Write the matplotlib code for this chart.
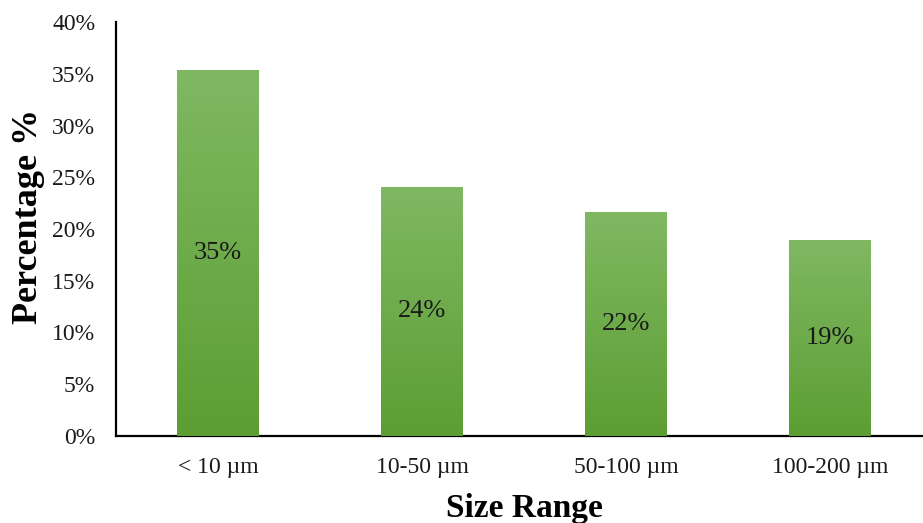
import matplotlib
matplotlib.use("Agg")
import matplotlib.pyplot as plt
import numpy as np
from matplotlib.colors import LinearSegmentedColormap

categories = ["< 10 \u00b5m", "10-50 \u00b5m", "50-100 \u00b5m", "100-200 \u00b5m"]
percentages = [0.354, 0.241, 0.216, 0.189]
y_ticks = [0, 0.05, 0.10, 0.15, 0.20, 0.25, 0.30, 0.35, 0.40]

plt.rcParams["font.family"] = ["Liberation Serif", "DejaVu Serif"]

fig = plt.figure(figsize=(9.23, 5.23), dpi=100)
ax = fig.add_axes([116 / 923, 87 / 523, 816 / 923, 414 / 523])

x = np.arange(len(categories))
bars = ax.bar(x, percentages, width=0.40, color="#6aa944", zorder=2)

# vertical green gradient inside every bar
grad_cmap = LinearSegmentedColormap.from_list("bar_grad", ["#5c9e33", "#80b862"])
grad = np.linspace(0, 1, 256).reshape(-1, 1)
for rect in bars:
    x0, w, h = rect.get_x(), rect.get_width(), rect.get_height()
    im = ax.imshow(grad, cmap=grad_cmap, origin="lower", aspect="auto",
                   extent=(x0, x0 + w, 0, h), zorder=3)
    im.set_clip_path(rect)

for xi, v in zip(x, percentages):
    ax.text(xi, v / 2, f"{round(v * 100):.0f}%", ha="center", va="center",
            fontsize=19, color="#1a1a1a", zorder=4)

ax.set_xlim(-0.5, 3.5)
ax.set_ylim(0, 0.40)
ax.set_yticks(y_ticks)
ax.set_yticklabels([f"{round(t * 100)}%" for t in y_ticks])
ax.set_xticks(x)
ax.set_xticklabels(categories)
ax.tick_params(axis="both", length=0, labelsize=17, colors="#1a1a1a")
ax.tick_params(axis="y", pad=15)
ax.tick_params(axis="x", pad=15)

for side in ("top", "right"):
    ax.spines[side].set_visible(False)
for side in ("left", "bottom"):
    ax.spines[side].set_linewidth(1.6)
    ax.spines[side].set_color("black")

ax.set_ylabel("Percentage %", fontsize=26, fontweight="bold")
ax.yaxis.set_label_coords(-0.087, 0.53)
ax.set_xlabel("Size Range", fontsize=24, fontweight="bold", labelpad=11)

fig.savefig("out.png", dpi=100)
